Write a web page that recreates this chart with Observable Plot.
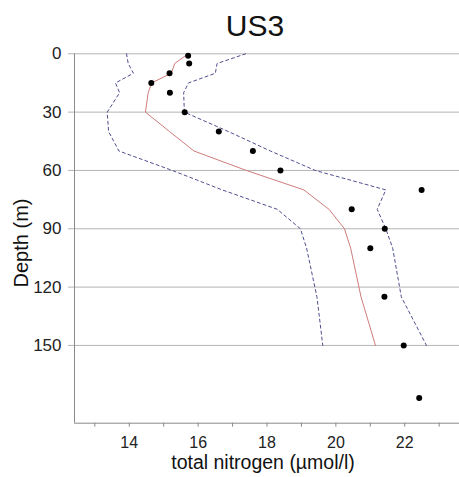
<!DOCTYPE html>
<html>
<head>
<meta charset="utf-8">
<script src="https://cdn.jsdelivr.net/npm/d3@7"></script>
<script src="https://cdn.jsdelivr.net/npm/@observablehq/plot@0.6"></script>
<style>
  html, body { margin: 0; padding: 0; background: #fff; }
  #title { height: 40px; font: 30px "Liberation Sans", Arial, sans-serif; line-height: 40px;
           text-align: center; padding-left: 51px; position: relative; top: 6px; color: #111; box-sizing: border-box; width: 459px; }
  svg { display: block; }
</style>
</head>
<body>
<div id="title">US3</div>
<div id="chart"></div>
<script>
// Profile (model) depths and values
const profileDepth = [0, 5, 10, 15, 20, 30, 40, 50, 60, 70, 80, 90, 100, 125, 150];
const meanN  = [15.71, 15.32, 15.22, 14.65, 14.55, 14.47, 15.17, 15.88, 17.40, 19.07, 19.80, 20.25, 20.43, 20.73, 21.15];
const lowerN = [13.92, 13.97, 14.12, 13.60, 13.72, 13.36, 13.40, 13.70, 15.25, 16.70, 18.30, 18.97, 19.15, 19.45, 19.62];
const upperN = [17.38, 16.55, 16.50, 15.72, 15.58, 15.60, 16.88, 18.10, 19.40, 21.45, 21.20, 21.45, 21.65, 21.90, 22.63];

// Observations
const obsDepth = [1, 5, 10, 15, 20, 30, 40, 50, 60, 70, 80, 90, 100, 125, 150, 177];
const obsN     = [15.71, 15.74, 15.17, 14.64, 15.18, 15.61, 16.60, 17.59, 18.39, 22.49, 20.46, 21.42, 21.00, 21.41, 21.97, 22.42];

// Axis ticks
const yTicks = [0, 30, 60, 90, 120, 150];
const xTicks = [13, 14, 15, 16, 17, 18, 19, 20, 21, 22, 23];
const xDomain = [12.41, 23.59];
const yDomain = [0, 190];

const profile = profileDepth.map((d, i) => ({depth: d, mean: meanN[i], lower: lowerN[i], upper: upperN[i]}));
const obs = obsDepth.map((d, i) => ({depth: d, n: obsN[i]}));

const font = '"Liberation Sans", Arial, sans-serif';
const axisColor = "#8a8a8a";

const chart = Plot.plot({
  width: 459,
  height: 437,
  marginLeft: 74,
  marginRight: 0,
  marginTop: 13.3,
  marginBottom: 54.3,
  style: {fontFamily: font, fontSize: "17px", color: "#222", background: "#fff"},
  x: {domain: xDomain},
  y: {domain: yDomain, reverse: true},
  marks: [
    Plot.gridY(yTicks, {stroke: "#b4b4b4", strokeOpacity: 1, strokeWidth: 1}),
    Plot.axisY(yTicks, {tickSize: 6, tickPadding: 7, stroke: "#b4b4b4", fontSize: 17, label: null, fill: "#222"}),
    Plot.axisX(xTicks, {tickSize: 4, tickPadding: 9, stroke: axisColor, fontSize: 16, label: null,
      tickFormat: d => d % 2 === 0 ? String(d) : "", fill: "#222"}),
    Plot.ruleX([xDomain[0]], {y1: 0, y2: yDomain[1], stroke: axisColor, strokeWidth: 1}),
    Plot.ruleY([yDomain[1]], {stroke: axisColor, strokeWidth: 1}),
    Plot.line(profile, {x: "lower", y: "depth", stroke: "#4f4f8f", strokeWidth: 1, strokeDasharray: "3,3", curve: "linear"}),
    Plot.line(profile, {x: "upper", y: "depth", stroke: "#4f4f8f", strokeWidth: 1, strokeDasharray: "3,3", curve: "linear"}),
    Plot.line(profile, {x: "mean", y: "depth", stroke: "#cf7b7b", strokeWidth: 1, curve: "linear"}),
    Plot.dot(obs, {x: "n", y: "depth", r: 3, fill: "#000", stroke: "none"}),
    Plot.text(["total nitrogen (µmol/l)"], {text: d => d, frameAnchor: "bottom", textAnchor: "middle",
      lineAnchor: "middle", dy: 40, dx: -4, fontSize: 19.5, fill: "#111"}),
    Plot.text(["Depth (m)"], {text: d => d, frameAnchor: "left", textAnchor: "middle",
      lineAnchor: "middle", rotate: -90, dx: -53, dy: 4.5, fontSize: 20, fill: "#111"})
  ]
});
document.getElementById("chart").appendChild(chart);
</script>
</body>
</html>
